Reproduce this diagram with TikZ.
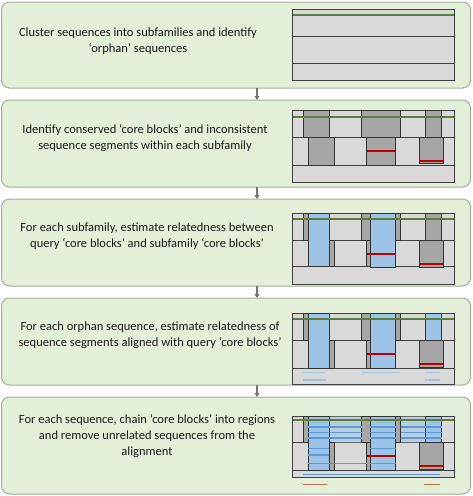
\documentclass[tikz,border=0pt]{standalone}
\usepackage{fontspec}
\setmainfont{Carlito}
\usetikzlibrary{arrows.meta}
\definecolor{panelfill}{HTML}{E3EFD9}
\definecolor{paneldraw}{HTML}{A3AE99}
\definecolor{lg}{HTML}{D9D9D9}
\definecolor{dg}{HTML}{A6A6A6}
\definecolor{bl}{HTML}{9DC3E6}
\definecolor{bld}{HTML}{5B9BD5}
\definecolor{gline}{HTML}{5A7F3A}
\definecolor{rline}{HTML}{C00000}
\definecolor{oline}{HTML}{C0704A}
\definecolor{txt}{HTML}{1A1A1A}
\tikzset{
  panel/.style={draw=paneldraw, line width=1pt, fill=panelfill, rounded corners=8pt},
  frame/.style={draw=black!75, line width=0.9pt, fill=lg},
  rowline/.style={draw=black!75, line width=0.9pt},
  blk/.style={draw=black!80, line width=0.9pt, fill=dg},
  blu/.style={draw=black!80, line width=0.9pt, fill=bl},
  lblu/.style={draw=black!60, line width=0.6pt, fill=bl!55!lg},
  grn/.style={draw=gline, line width=1.8pt},
  redl/.style={draw=rline, line width=1.8pt},
  lbl/.style={draw=bl, line width=1.4pt},
  chain/.style={draw=bld, line width=1.2pt},
  orl/.style={draw=oline, line width=1.4pt},
  flow/.style={draw=black!55, line width=1.2pt, -{Triangle[length=4pt,width=5pt]}},
  ptext/.style={align=center, text=txt, font=\fontsize{12.5}{16}\selectfont}
}
\begin{document}
\begin{tikzpicture}[x=1pt,y=-1pt]
\useasboundingbox (0,0) rectangle (472,496);
% panels
\draw[panel] (1.5,2) rectangle (470.5,88);
\draw[panel] (1.5,100) rectangle (470.5,187);
\draw[panel] (1.5,199) rectangle (470.5,286);
\draw[panel] (1.5,298) rectangle (470.5,385);
\draw[panel] (1.5,397) rectangle (470.5,494);
\coordinate (b1) at (257,88); \coordinate (t2) at (257,100);
\coordinate (b2) at (257,187); \coordinate (t3) at (257,199);
\coordinate (b3) at (257,286); \coordinate (t4) at (257,298);
\coordinate (b4) at (257,385); \coordinate (t5) at (257,397);
\draw[flow] (b1) -- (t2);
\draw[flow] (b2) -- (t3);
\draw[flow] (b3) -- (t4);
\draw[flow] (b4) -- (t5);
% texts
\node[ptext] (x1) at (138,41) {Cluster sequences into subfamilies and identify\\‘orphan’ sequences};
\node[ptext] (x2) at (145,138) {Identify conserved ‘core blocks’ and inconsistent\\sequence segments within each subfamily};
\node[ptext] (x3) at (147,236) {For each subfamily, estimate relatedness between\\query ‘core blocks’ and subfamily ‘core blocks’};
\node[ptext] (x4) at (150,335) {For each orphan sequence, estimate relatedness of\\sequence segments aligned with query ‘core blocks’};
\node[ptext] (x5) at (147,436) {For each sequence, chain ‘core blocks’ into regions\\and remove unrelated sequences from the\\alignment};
% ---------- diagram 1
\draw[frame] (292.7,9) rectangle (454,80);
\draw[rowline] (292.7,36) -- (454,36);
\draw[rowline] (292.7,63) -- (454,63);
\draw[grn] (293,15) -- (453.5,15);
% ---------- diagram 2
\draw[frame] (292.7,110) rectangle (454,182);
\draw[rowline] (292.7,137.7) -- (454,137.7);
\draw[rowline] (292.7,165) -- (454,165);
\draw[blk] (303.3,110) rectangle (329.3,137.7);
\draw[blk] (361.7,110) rectangle (400.7,137.7);
\draw[blk] (425.5,110) rectangle (441.5,137.7);
\draw[blk] (308.3,137.7) rectangle (334.3,165);
\draw[blk] (366.7,137.7) rectangle (395.5,165);
\draw[blk] (419,137.7) rectangle (443.3,163.3);
\draw[redl] (367,151) -- (395,151);
\draw[redl] (419.5,161) -- (443,161);
\draw[grn] (293,116.7) -- (453.5,116.7);
% ---------- diagram 3
\draw[frame] (292.7,213.3) rectangle (454,284.3);
\draw[rowline] (292.7,240) -- (454,240);
\draw[rowline] (292.7,266.7) -- (454,266.7);
\draw[blk] (303.3,213.3) rectangle (308.3,240);
\draw[blk] (329.3,240) rectangle (334.3,266.7);
\draw[blu] (308.3,213.3) rectangle (329.3,266.7);
\draw[blk] (361.7,213.3) rectangle (370,240);
\draw[blk] (395.7,213.3) rectangle (400.7,240);
\draw[blk] (366.7,240) rectangle (370,266.7);
\draw[blu] (370,213.3) rectangle (395.7,267.7);
\draw[redl] (366.5,254.3) -- (395.5,254.3);
\draw[blk] (425.5,213.3) rectangle (441.5,240);
\draw[blk] (419,240) rectangle (443.3,267.7);
\draw[redl] (419.5,264) -- (443,264);
\draw[grn] (293,219.3) -- (453.5,219.3);
% ---------- diagram 4
\draw[frame] (292.7,313.3) rectangle (454,384.3);
\draw[rowline] (292.7,340.7) -- (454,340.7);
\draw[rowline] (292.7,368.3) -- (454,368.3);
\draw[blk] (303.3,313.3) rectangle (308.3,340.7);
\draw[blk] (329.3,340.7) rectangle (334.3,368.3);
\draw[blu] (308.3,313.3) rectangle (329.3,368.3);
\draw[blk] (361.7,313.3) rectangle (370,340.7);
\draw[blk] (395.7,313.3) rectangle (400.7,340.7);
\draw[blk] (366.7,340.7) rectangle (370,368.3);
\draw[blu] (370,313.3) rectangle (395.7,368.3);
\draw[redl] (366.5,354) -- (395.5,354);
\draw[blu] (425.5,313.3) rectangle (441.5,340.7);
\draw[blk] (419,340.7) rectangle (443.3,367.7);
\draw[redl] (419.5,364) -- (443,364);
\draw[lbl] (303,372.3) -- (326,372.3);
\draw[lbl] (303,380) -- (326,380);
\draw[lbl] (362,372.3) -- (400,372.3);
\draw[lbl] (425,372.3) -- (440,372.3);
\draw[lbl] (425,380) -- (440,380);
\draw[grn] (293,319.3) -- (453.5,319.3);
% ---------- diagram 5
\draw[frame] (292.7,416) rectangle (454,477.7);
\draw[rowline] (292.7,442.7) -- (454,442.7);
\draw[rowline] (292.7,470) -- (454,470);
\draw[lblu] (329.3,416) rectangle (361.7,442.7);
\draw[lblu] (400.7,416) rectangle (425.5,442.7);
\draw[blu] (425.5,416) rectangle (441.5,442.7);
\draw[blk] (303.3,416) rectangle (308.3,442.7);
\draw[blk] (361.7,416) rectangle (370,442.7);
\draw[blk] (395.7,416) rectangle (400.7,442.7);
\draw[blu] (308.3,416) rectangle (329.3,470);
\draw[blk] (329.3,442.7) rectangle (334.3,470);
\draw[blk] (366.7,442.7) rectangle (370,470);
\draw[blu] (370,416) rectangle (395.7,470);
\draw[chain] (308.3,427) -- (361.7,427);
\draw[chain] (308.3,432.7) -- (361.7,432.7);
\draw[chain] (308.3,438) -- (361.7,438);
\draw[chain] (370,427) -- (395.7,427);
\draw[chain] (370,432.7) -- (395.7,432.7);
\draw[chain] (370,438) -- (395.7,438);
\draw[chain] (400.7,427) -- (441.5,427);
\draw[chain] (400.7,432.7) -- (441.5,432.7);
\draw[chain] (400.7,438) -- (441.5,438);
\draw[chain] (308.3,448.3) -- (329.3,448.3);
\draw[chain] (308.3,455) -- (329.3,455);
\draw[chain] (308.3,463.3) -- (366.7,463.3);
\draw[chain] (370,448.3) -- (395.7,448.3);
\draw[chain] (370,463.3) -- (395.7,463.3);
\draw[redl] (366.5,456) -- (395.5,456);
\draw[blk] (419,442.7) rectangle (443.3,469);
\draw[redl] (419.5,466) -- (443,466);
\draw[chain] (303,474.3) -- (440,474.3);
\draw[orl] (303,484.3) -- (326.7,484.3);
\draw[orl] (424,484.3) -- (440,484.3);
\draw[grn] (293,420) -- (453.5,420);
\end{tikzpicture}
\end{document}
